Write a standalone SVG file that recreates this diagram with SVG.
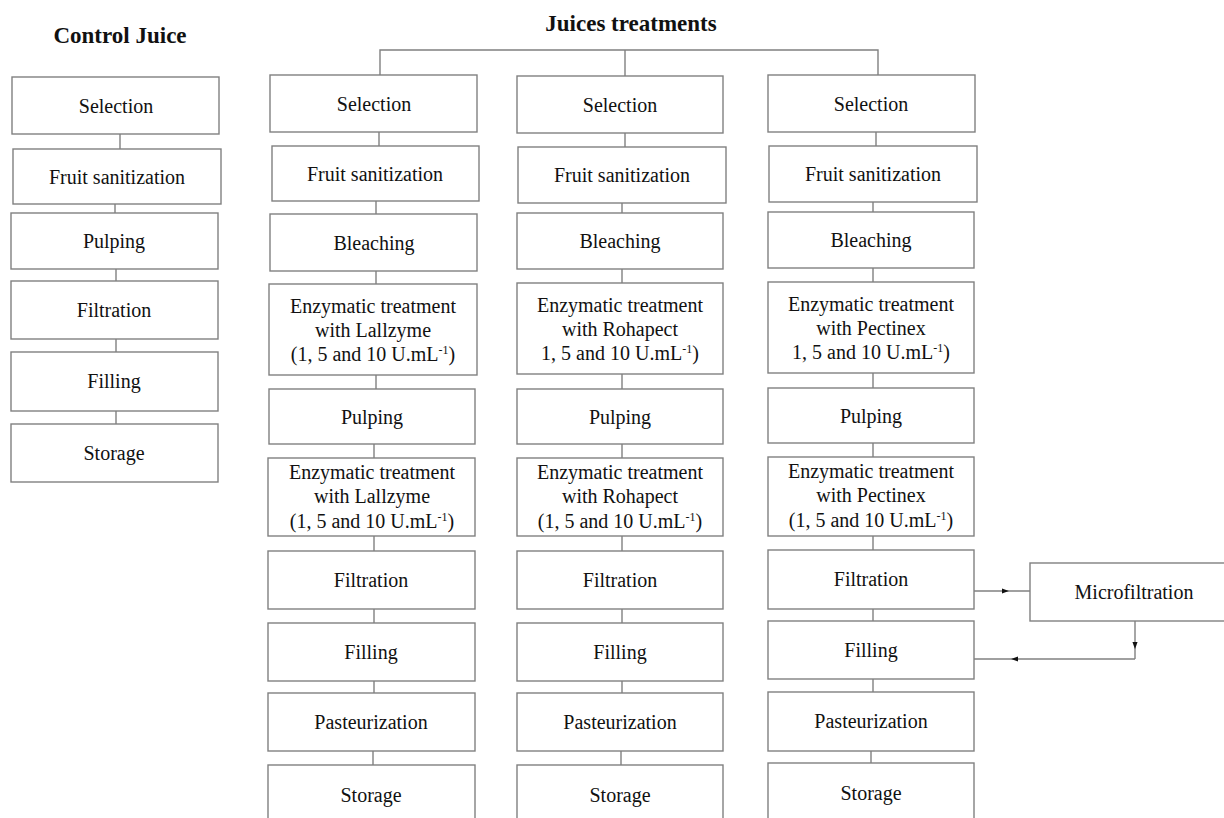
<svg xmlns="http://www.w3.org/2000/svg" width="1224" height="818" viewBox="0 0 1224 818">
<defs>
<style>
.b{fill:#fff;stroke:#808080;stroke-width:1.4}
.t{font-family:"Liberation Serif","Times New Roman",serif;font-size:20px;fill:#111;text-anchor:middle}
.h{font-family:"Liberation Serif","Times New Roman",serif;font-size:23px;font-weight:bold;fill:#111;text-anchor:middle}
.c{stroke:#808080;stroke-width:1.4;fill:none}
.s{font-size:12px}
</style>
<marker id="ah" viewBox="0 0 8 8" refX="7" refY="4" markerWidth="7" markerHeight="7" markerUnits="userSpaceOnUse" orient="auto">
<path d="M0,1 L8,4 L0,7 Z" fill="#111"/>
</marker>
</defs>
<rect width="1224" height="818" fill="#fff"/>
<text class="h" x="120" y="43">Control Juice</text>
<text class="h" x="631" y="31">Juices treatments</text>

<g id="connectors">
<polyline class="c" points="380,75 380,50 878,50 878,75"/>
<line class="c" x1="625" y1="50" x2="625" y2="76"/>
<!-- control -->
<line class="c" x1="120" y1="134" x2="120" y2="149"/>
<line class="c" x1="115" y1="204" x2="115" y2="213"/>
<line class="c" x1="116" y1="269" x2="116" y2="281"/>
<line class="c" x1="116" y1="339" x2="116" y2="352"/>
<line class="c" x1="116" y1="411" x2="116" y2="424"/>
<!-- col1 -->
<line class="c" x1="379" y1="132" x2="379" y2="146"/>
<line class="c" x1="376" y1="201" x2="376" y2="214"/>
<line class="c" x1="376" y1="271" x2="376" y2="284"/>
<line class="c" x1="376" y1="375" x2="376" y2="389"/>
<line class="c" x1="374" y1="444" x2="374" y2="458"/>
<line class="c" x1="374" y1="536" x2="374" y2="551"/>
<line class="c" x1="374" y1="609" x2="374" y2="623"/>
<line class="c" x1="374" y1="681" x2="374" y2="693"/>
<line class="c" x1="373" y1="751" x2="373" y2="765"/>
<!-- col2 -->
<line class="c" x1="625" y1="133" x2="625" y2="147"/>
<line class="c" x1="622" y1="203" x2="622" y2="213"/>
<line class="c" x1="622" y1="269" x2="622" y2="283"/>
<line class="c" x1="622" y1="374" x2="622" y2="389"/>
<line class="c" x1="622" y1="444" x2="622" y2="458"/>
<line class="c" x1="622" y1="536" x2="622" y2="551"/>
<line class="c" x1="622" y1="609" x2="622" y2="623"/>
<line class="c" x1="622" y1="681" x2="622" y2="693"/>
<line class="c" x1="621" y1="751" x2="621" y2="765"/>
<!-- col3 -->
<line class="c" x1="876" y1="132" x2="876" y2="146"/>
<line class="c" x1="873" y1="202" x2="873" y2="212"/>
<line class="c" x1="873" y1="268" x2="873" y2="282"/>
<line class="c" x1="873" y1="373" x2="873" y2="388"/>
<line class="c" x1="873" y1="443" x2="873" y2="457"/>
<line class="c" x1="873" y1="536" x2="873" y2="550"/>
<line class="c" x1="873" y1="609" x2="873" y2="621"/>
<line class="c" x1="873" y1="679" x2="873" y2="692"/>
<line class="c" x1="871" y1="751" x2="871" y2="763"/>
<!-- microfiltration loop -->
<polyline class="c" points="974,591 1008,591 1030,591" marker-mid="url(#ah)"/>
<polyline class="c" points="1135,621 1135,648 1135,659" marker-mid="url(#ah)"/>
<polyline class="c" points="1135,659 1012,659 974,659" marker-mid="url(#ah)"/>
</g>

<!-- Control column -->
<g id="c-selection"><rect class="b" x="12" y="77" width="207" height="57"/><text class="t" x="116" y="113">Selection</text></g>
<g id="c-fruit"><rect class="b" x="13" y="149" width="208" height="55"/><text class="t" x="117" y="184">Fruit sanitization</text></g>
<g id="c-pulping"><rect class="b" x="11" y="213" width="207" height="56"/><text class="t" x="114" y="248">Pulping</text></g>
<g id="c-filtration"><rect class="b" x="11" y="281" width="207" height="58"/><text class="t" x="114" y="317">Filtration</text></g>
<g id="c-filling"><rect class="b" x="11" y="352" width="207" height="59"/><text class="t" x="114" y="388">Filling</text></g>
<g id="c-storage"><rect class="b" x="11" y="424" width="207" height="58"/><text class="t" x="114" y="460">Storage</text></g>

<!-- Column 1 Lallzyme -->
<g id="l-selection"><rect class="b" x="270" y="75" width="207" height="57"/><text class="t" x="374" y="111">Selection</text></g>
<g id="l-fruit"><rect class="b" x="272" y="146" width="207" height="55"/><text class="t" x="375" y="181">Fruit sanitization</text></g>
<g id="l-bleaching"><rect class="b" x="270" y="214" width="207" height="57"/><text class="t" x="374" y="250">Bleaching</text></g>
<g id="l-enz1"><rect class="b" x="269" y="284" width="208" height="91"/><text class="t" x="373" y="313">Enzymatic treatment</text><text class="t" x="373" y="337">with Lallzyme</text><text class="t" x="373" y="361">(1, 5 and 10 U.mL<tspan class="s" baseline-shift="super">-1</tspan>)</text></g>
<g id="l-pulping"><rect class="b" x="269" y="389" width="206" height="55"/><text class="t" x="372" y="424">Pulping</text></g>
<g id="l-enz2"><rect class="b" x="268" y="458" width="207" height="78"/><text class="t" x="372" y="479">Enzymatic treatment</text><text class="t" x="372" y="503">with Lallzyme</text><text class="t" x="372" y="528">(1, 5 and 10 U.mL<tspan class="s" baseline-shift="super">-1</tspan>)</text></g>
<g id="l-filtration"><rect class="b" x="268" y="551" width="207" height="58"/><text class="t" x="371" y="587">Filtration</text></g>
<g id="l-filling"><rect class="b" x="268" y="623" width="207" height="58"/><text class="t" x="371" y="659">Filling</text></g>
<g id="l-pasteurization"><rect class="b" x="268" y="693" width="207" height="58"/><text class="t" x="371" y="729">Pasteurization</text></g>
<g id="l-storage"><rect class="b" x="268" y="765" width="207" height="70"/><text class="t" x="371" y="802">Storage</text></g>

<!-- Column 2 Rohapect -->
<g id="r-selection"><rect class="b" x="517" y="76" width="206" height="57"/><text class="t" x="620" y="112">Selection</text></g>
<g id="r-fruit"><rect class="b" x="518" y="147" width="208" height="56"/><text class="t" x="622" y="182">Fruit sanitization</text></g>
<g id="r-bleaching"><rect class="b" x="517" y="213" width="206" height="56"/><text class="t" x="620" y="248">Bleaching</text></g>
<g id="r-enz1"><rect class="b" x="517" y="283" width="206" height="91"/><text class="t" x="620" y="312">Enzymatic treatment</text><text class="t" x="620" y="336">with Rohapect</text><text class="t" x="620" y="360">1, 5 and 10 U.mL<tspan class="s" baseline-shift="super">-1</tspan>)</text></g>
<g id="r-pulping"><rect class="b" x="517" y="389" width="206" height="55"/><text class="t" x="620" y="424">Pulping</text></g>
<g id="r-enz2"><rect class="b" x="517" y="458" width="206" height="78"/><text class="t" x="620" y="479">Enzymatic treatment</text><text class="t" x="620" y="503">with Rohapect</text><text class="t" x="620" y="528">(1, 5 and 10 U.mL<tspan class="s" baseline-shift="super">-1</tspan>)</text></g>
<g id="r-filtration"><rect class="b" x="517" y="551" width="206" height="58"/><text class="t" x="620" y="587">Filtration</text></g>
<g id="r-filling"><rect class="b" x="517" y="623" width="206" height="58"/><text class="t" x="620" y="659">Filling</text></g>
<g id="r-pasteurization"><rect class="b" x="517" y="693" width="206" height="58"/><text class="t" x="620" y="729">Pasteurization</text></g>
<g id="r-storage"><rect class="b" x="517" y="765" width="206" height="70"/><text class="t" x="620" y="802">Storage</text></g>

<!-- Column 3 Pectinex -->
<g id="p-selection"><rect class="b" x="768" y="75" width="207" height="57"/><text class="t" x="871" y="111">Selection</text></g>
<g id="p-fruit"><rect class="b" x="769" y="146" width="208" height="56"/><text class="t" x="873" y="181">Fruit sanitization</text></g>
<g id="p-bleaching"><rect class="b" x="768" y="212" width="206" height="56"/><text class="t" x="871" y="247">Bleaching</text></g>
<g id="p-enz1"><rect class="b" x="768" y="282" width="206" height="91"/><text class="t" x="871" y="311">Enzymatic treatment</text><text class="t" x="871" y="335">with Pectinex</text><text class="t" x="871" y="359">1, 5 and 10 U.mL<tspan class="s" baseline-shift="super">-1</tspan>)</text></g>
<g id="p-pulping"><rect class="b" x="768" y="388" width="206" height="55"/><text class="t" x="871" y="423">Pulping</text></g>
<g id="p-enz2"><rect class="b" x="768" y="457" width="206" height="79"/><text class="t" x="871" y="478">Enzymatic treatment</text><text class="t" x="871" y="502">with Pectinex</text><text class="t" x="871" y="527">(1, 5 and 10 U.mL<tspan class="s" baseline-shift="super">-1</tspan>)</text></g>
<g id="p-filtration"><rect class="b" x="768" y="550" width="206" height="59"/><text class="t" x="871" y="586">Filtration</text></g>
<g id="p-filling"><rect class="b" x="768" y="621" width="206" height="58"/><text class="t" x="871" y="657">Filling</text></g>
<g id="p-pasteurization"><rect class="b" x="768" y="692" width="206" height="59"/><text class="t" x="871" y="728">Pasteurization</text></g>
<g id="p-storage"><rect class="b" x="768" y="763" width="206" height="70"/><text class="t" x="871" y="800">Storage</text></g>

<g id="microfiltration"><rect class="b" x="1030" y="563" width="210" height="58"/><text class="t" x="1134" y="599">Microfiltration</text></g>
</svg>
